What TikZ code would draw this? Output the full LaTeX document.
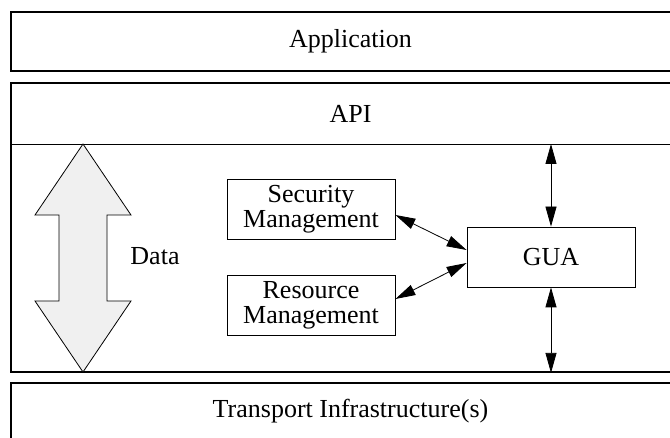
\documentclass[tikz,border=0pt]{standalone}
\usepackage{fontspec}
\setmainfont{Liberation Serif}
\usetikzlibrary{arrows.meta}
\definecolor{datagray}{RGB}{240,240,240}
\begin{document}
\begin{tikzpicture}[x=1pt,y=-1pt,
    layer/.style = {draw, line width=1.8pt, minimum width=679pt, inner sep=0pt},
    box/.style = {draw, line width=0.8pt, minimum width=168pt, minimum height=60pt, inner sep=0pt, align=center},
    link/.style = {line width=0.8pt, {Triangle[length=20pt,width=11pt]}-{Triangle[length=20pt,width=11pt]}},
    font=\fontsize{26}{25.5}\selectfont]
    \useasboundingbox (0,0) rectangle (670,438);
    \node[layer, minimum height=59pt] (app) at (350.5,41.5) {Application};
    \node[layer, minimum height=289pt] (core) at (350.5,227.5) {};
    \node (api) at (350.5,113.5) {API};
    \draw[line width=0.8pt] (core.west |- 0,144) coordinate (apil) -- (core.east |- 0,144) coordinate (apir);
    \node[layer, minimum height=57pt] (trans) at (350.5,411.5) {Transport Infrastructure(s)};
    % data arrow
    \draw[line width=0.8pt, fill=datagray] (83,144) -- (131,215) -- (107,215) -- (107,301) -- (131,301)
        -- (83,372) -- (35,301) -- (59,301) -- (59,215) -- (35,215) -- cycle;
    \node (data) at (155,256) {Data};
    \node[box] (sec) at (311,209) {Security\\Management};
    \node[box] (res) at (311,305.5) {Resource\\Management};
    \node[box] (gua) at (551,257) {GUA};
    \draw[link] ([yshift=-6pt]sec.east) -- ([yshift=7pt]gua.west);
    \draw[link] ([yshift=6.5pt]res.east) -- ([yshift=-6pt]gua.west);
    \draw[link] (gua.north) -- (gua.north |- apil);
    \draw[link] (gua.south) -- (gua.south |- core.south);
\end{tikzpicture}
\end{document}
